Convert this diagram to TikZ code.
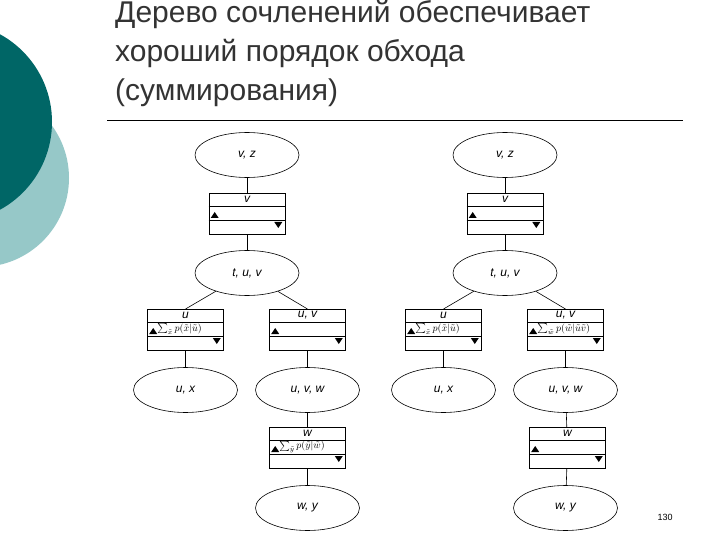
\documentclass[tikz,border=0pt]{standalone}
\usepackage{fontspec}
\setmainfont{Liberation Sans}
\usetikzlibrary{shapes.geometric}
\definecolor{dteal}{RGB}{0,102,102}
\definecolor{lteal}{RGB}{150,200,200}
\tikzset{
  cl/.style={ellipse,draw,line width=0.6pt,minimum width=104pt,minimum height=45pt,inner sep=0pt,font=\itshape\fontsize{12}{14}\selectfont},
  bx/.style={draw,line width=0.6pt,minimum width=76pt,minimum height=41pt,inner sep=0pt},
  ln/.style={line width=0.6pt},
  tri/.style={fill=black}
}
\newcommand{\mysep}[5]{% name, x, y(top), label, formula
  \node[bx,anchor=north] (#1) at (#2,#3) {};
  \draw[ln] ([yshift=-13pt]#1.north west) -- ([yshift=-13pt]#1.north east);
  \draw[ln] ([yshift=-27pt]#1.north west) -- ([yshift=-27pt]#1.north east);
  \node[font=\itshape\fontsize{12}{14}\selectfont,inner sep=0pt] at ([yshift=-6.5pt]#1.north) {#4};
  \fill[tri] ([xshift=2pt,yshift=-25pt]#1.north west) -- ++(8pt,0) -- ++(-4pt,6pt) -- cycle;
  \fill[tri] ([xshift=-3pt,yshift=-29pt]#1.north east) -- ++(-8pt,0) -- ++(4pt,-6pt) -- cycle;
  \node[inner sep=0pt,anchor=west] at ([xshift=10pt,yshift=-20pt]#1.north west) {\fontsize{10}{11}\selectfont #5};
}
\begin{document}
\begin{tikzpicture}[x=1pt,y=-1pt]
\useasboundingbox (0,0) rectangle (720,540);
\fill[lteal] (-20,178) circle (89);
\fill[dteal] (-48,122) circle (100);
\node[anchor=north west,align=left,font=\fontsize{30}{39}\selectfont,text=black!80,inner sep=0pt] (title) at (115,0) {Дерево сочленений обеспечивает\\хороший порядок обхода\\(суммирования)};
\draw[line width=0.6pt] (107,120) coordinate (r1) -- (683,120) coordinate (r2);
\node[font=\small] (pg) at (665,517) {130};
% left tree
\node[cl] (a1) at (247,155) {v, z};
\mysep{s1}{247}{193}{v}{}
\node[cl] (a2) at (247,273) {t, u, v};
\mysep{s2}{185.5}{309}{u}{$\sum_{\tilde x} p(\tilde x|\tilde u)$}
\mysep{s3}{307.5}{309}{u, v}{}
\node[cl] (a3) at (185.5,390) {u, x};
\node[cl] (a4) at (307.5,390) {u, v, w};
\mysep{s4}{307.5}{427}{w}{$\sum_{\tilde y} p(\tilde y|\tilde w)$}
\node[cl] (a5) at (307.5,508) {w, y};
\draw[ln] (a1) -- (s1); \draw[ln] (s1) -- (a2);
\draw[ln] (a2) -- (s2.north); \draw[ln] (a2) -- (s3.north);
\draw[ln] (s2.south) -- (a3); \draw[ln] (s3.south) -- (a4);
\draw[ln] (a4) -- (s4); \draw[ln] (s4) -- (a5);
% right tree
\node[cl] (b1) at (505,155) {v, z};
\mysep{t1}{505}{193}{v}{}
\node[cl] (b2) at (505,273) {t, u, v};
\mysep{t2}{443.5}{309}{u}{$\sum_{\tilde x} p(\tilde x|\tilde u)$}
\mysep{t3}{565.5}{309}{u, v}{$\sum_{\tilde w} p(\tilde w|\tilde u\tilde v)$}
\node[cl] (b3) at (443.5,390) {u, x};
\node[cl] (b4) at (565.5,390) {u, v, w};
\mysep{t4}{567.5}{427}{w}{}
\node[cl] (b5) at (565.5,508) {w, y};
\draw[ln] (b1) -- (t1); \draw[ln] (t1) -- (b2);
\draw[ln] (b2) -- (t2.north); \draw[ln] (b2) -- (t3.north);
\draw[ln] (t2.south) -- (b3); \draw[ln] (t3.south) -- (b4);
\draw[ln] (b4) -- (t4); \draw[ln] (t4) -- (b5);
\end{tikzpicture}
\end{document}
